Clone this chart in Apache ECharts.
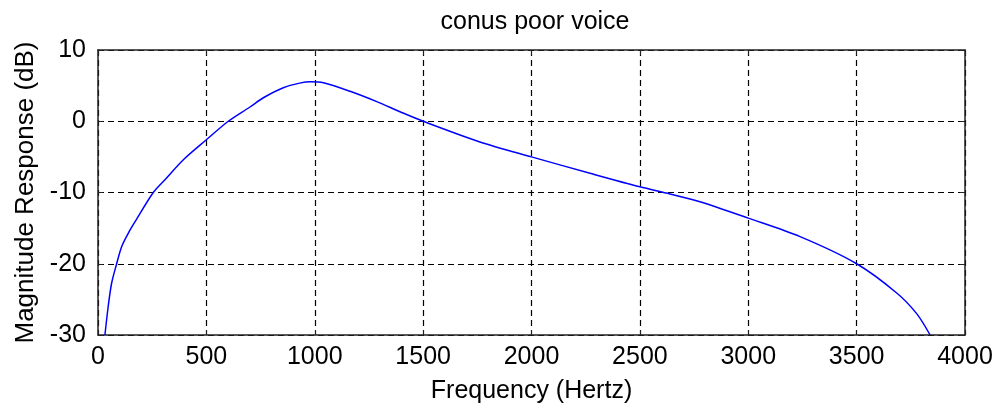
<!DOCTYPE html>
<html>
<head>
<meta charset="utf-8">
<script src="https://cdn.jsdelivr.net/npm/echarts@6/dist/echarts.min.js"></script>
<style>
  html, body { margin: 0; padding: 0; background: #fff; }
  #chart { width: 1000px; height: 415px; }
</style>
</head>
<body>
<div id="chart"></div>
<script>
// frequency response
var freqHz = [32, 47, 63, 86, 109, 140, 171, 255, 309, 394, 500, 601, 701, 763, 855, 930, 980, 1040, 1163, 1286, 1396, 1500, 1762, 2000, 2270, 2500, 2639, 2777, 3000, 3239, 3500, 3685, 3777, 3839];
var magDb = [-30, -26, -22.7, -20, -17.6, -15.7, -14.1, -10, -8.2, -5.4, -2.6, 0, 2.0, 3.3, 4.7, 5.35, 5.55, 5.4, 4.2, 2.75, 1.3, 0, -2.9, -5, -7.3, -9.2, -10.2, -11.3, -13.6, -16.2, -20, -24.1, -27, -30];

var titleText = 'conus poor voice';
var xName = 'Frequency (Hertz)';
var yName = 'Magnitude Response (dB)';

var points = freqHz.map(function(f, i) { return [f, magDb[i]]; });

var font = "'Liberation Sans', Arial, sans-serif";
var gridLine = { show: true, lineStyle: { color: '#000', type: [6, 4], width: 1.2 } };
var frame = { show: true, onZero: false, lineStyle: { color: '#222', width: 1.5 } };
var tick = { show: true, inside: true, length: 5, lineStyle: { color: '#222' } };
var plain = function(v) { return String(v); };

var chart = echarts.init(document.getElementById('chart'));
chart.setOption({
  animation: false,
  backgroundColor: '#fff',
  title: {
    text: titleText,
    left: 530, top: 5, textAlign: 'center',
    textStyle: { fontFamily: font, fontSize: 25, fontWeight: 'normal', color: '#000' }
  },
  grid: { left: 98, right: 35, top: 50, bottom: 80 },
  xAxis: [{
    type: 'value', min: 0, max: 4000, interval: 500,
    name: xName, nameLocation: 'middle', nameGap: 44,
    nameTextStyle: { fontFamily: font, fontSize: 25, color: '#000' },
    axisLine: frame, axisTick: tick, splitLine: gridLine,
    axisLabel: { fontFamily: font, fontSize: 25, color: '#000', margin: 10, formatter: plain }
  }, {
    type: 'value', position: 'top', min: 0, max: 4000, interval: 500,
    axisLine: frame, axisTick: tick, splitLine: { show: false },
    axisLabel: { show: false }
  }],
  yAxis: [{
    type: 'value', min: -30, max: 10, interval: 10,
    name: yName, nameLocation: 'middle', nameGap: 55,
    nameTextStyle: { fontFamily: font, fontSize: 26, color: '#000' },
    axisLine: frame, axisTick: tick, splitLine: gridLine,
    axisLabel: { fontFamily: font, fontSize: 25, color: '#000', margin: 12, formatter: plain }
  }, {
    type: 'value', position: 'right', min: -30, max: 10, interval: 10,
    axisLine: frame, axisTick: tick, splitLine: { show: false },
    axisLabel: { show: false }
  }],
  series: [{
    type: 'line',
    data: points,
    smooth: 0.3,
    showSymbol: false,
    lineStyle: { color: '#0000ff', width: 1.5 },
    clip: true
  }]
});
</script>
</body>
</html>
